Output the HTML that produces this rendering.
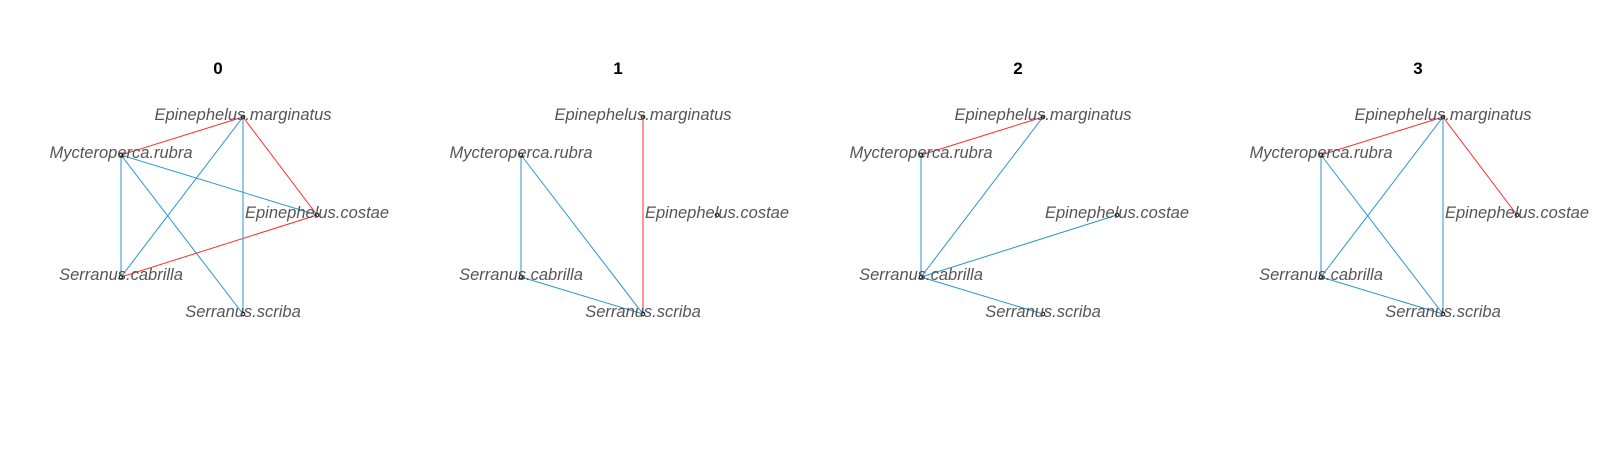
<!DOCTYPE html>
<html><head><meta charset="utf-8"><style>
html,body{margin:0;padding:0;background:#fff;width:1600px;height:450px;overflow:hidden}
</style></head><body>
<svg width="1600" height="450" xmlns="http://www.w3.org/2000/svg" font-family="Liberation Sans, sans-serif">
<g id="p0"></g>
</svg>
<script>
const svg=document.querySelector('svg');
const N={m:[243,117],r:[121,155],c:[317,215],k:[121,277],s:[243,314]};
const L={m:'Epinephelus.marginatus',r:'Mycteroperca.rubra',c:'Epinephelus.costae',k:'Serranus.cabrilla',s:'Serranus.scriba'};
const P=[
 {red:['rm','mc','kc'],blue:['mk','ms','rc','rs','rk']},
 {red:['ms'],blue:['rk','rs','ks']},
 {red:['rm'],blue:['rk','km','kc','ks']},
 {red:['rm','mc'],blue:['mk','ms','rk','rs','ks']}
];
let h='';
P.forEach((p,i)=>{
 const o=i*400;
 h+=`<text x="${218+o}" y="74" font-size="17" font-weight="bold" text-anchor="middle" fill="#000">${i}</text>`;
 const line=(e,col)=>{const a=N[e[0]],b=N[e[1]];h+=`<line x1="${a[0]+o}" y1="${a[1]}" x2="${b[0]+o}" y2="${b[1]}" stroke="${col}" stroke-width="1"/>`;};
 p.red.forEach(e=>line(e,'#ff2a2a'));
 p.blue.forEach(e=>line(e,'#2b95cf'));
 for(const k in N){const a=N[k];
  h+=`<circle cx="${a[0]+o}" cy="${a[1]}" r="1.8" fill="none" stroke="#000" stroke-width="1"/>`;
  h+=`<text x="${a[0]+o}" y="${a[1]+3}" font-size="16.5" font-style="italic" text-anchor="middle" fill="#555">${L[k]}</text>`;}
});
svg.innerHTML=h;
</script>
</body></html>
